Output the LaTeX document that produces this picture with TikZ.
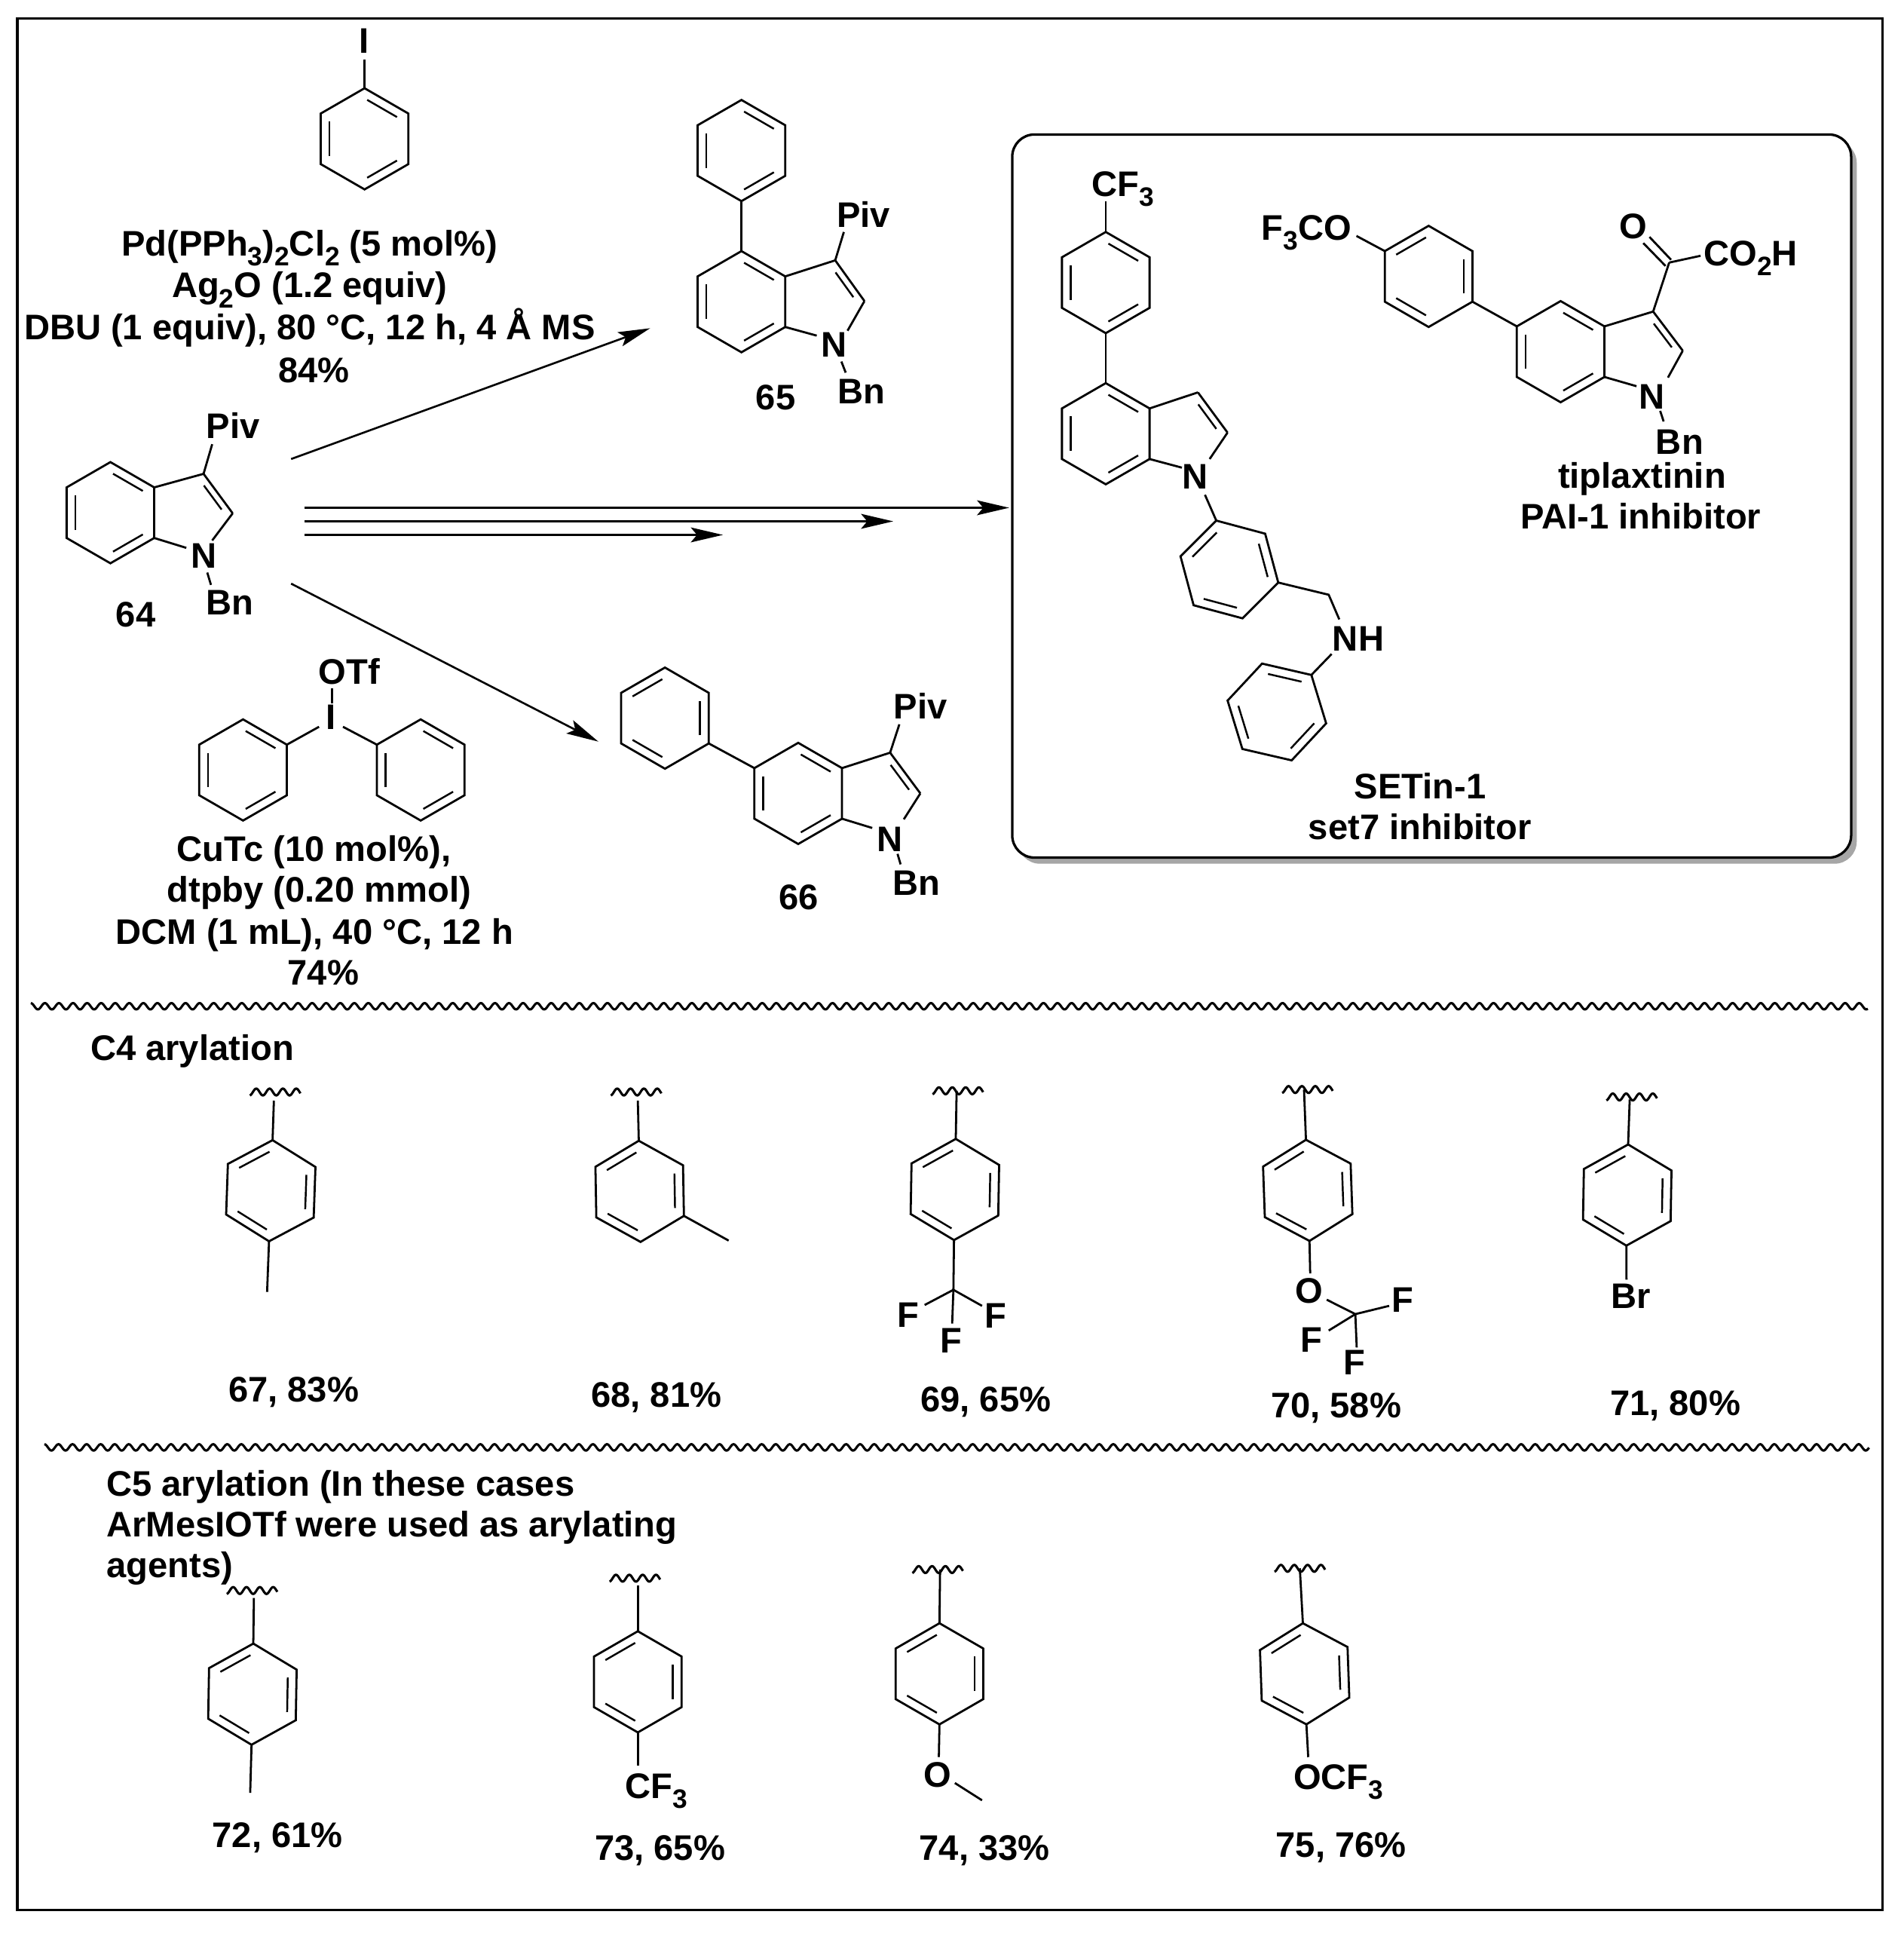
\documentclass[tikz,border=0pt]{standalone}
\usepackage{fontspec}
\setmainfont{Liberation Sans}
\usetikzlibrary{calc,arrows.meta}
\newcommand\subs[1]{\raisebox{-.28em}{\fontsize{10.8}{10.8}\selectfont #1}}
\tikzset{
  bond/.style={line width=.85pt,line cap=butt,line join=miter},
  innerbond/.style={line width=.75pt,line cap=butt},
  rxn/.style={line width=.95pt,-{Stealth[length=13pt,width=6pt,inset=2.5pt]}},
  rxnthin/.style={line width=.8pt,-{Stealth[length=13pt,width=6pt,inset=2.5pt]}},
  lab/.style={font=\fontsize{14.4}{14.4}\selectfont\bfseries,inner sep=0pt,text height=10.3pt,text depth=0pt},
  wavy/.style={line width=.95pt,line join=round}
}
\def\Rr{41}
\newcommand\benz[5]{%
  \coordinate (#1c) at (#2,#3);
  \foreach \k in {0,...,5}{%
    \pgfmathsetmacro\aa{#4+60*\k}%
    \coordinate (#1\k) at ({#2+\Rr*cos(\aa)},{#3-\Rr*sin(\aa)});
  }
  \draw[bond] (#10)--(#11)--(#12)--(#13)--(#14)--(#15)--cycle;
  \foreach \k in {0,2,4}{%
    \pgfmathtruncatemacro\ka{mod(\k+#5,6)}%
    \pgfmathtruncatemacro\kb{mod(\k+#5+1,6)}%
    \draw[innerbond] ($(#1\ka)!.075!(#1\kb)!.2!(#1c)$) -- ($(#1\kb)!.075!(#1\ka)!.2!(#1c)$);
  }
}
\newcommand\bd[2]{\draw[bond] #1 -- #2;}
% double-bond inner line: ends a, b, toward c
\newcommand\inn[3]{\draw[innerbond] ($#1!.12!#2!.2!#3$) -- ($#2!.12!#1!.2!#3$);}
\newcommand\smallwave[2]{\draw[wavy,domain=-20.5:20.5,samples=50,smooth,variable=\t] plot ({#1+\t},{#2-2.8*cos(33.3*(\t+4.5))});}
\newcommand\longwave[3]{\draw[wavy,domain=#1:#2,samples=1500,variable=\t] plot ({\t},{#3-2.6*cos(mod(\t-#1,11.4)*31.579)});}
\begin{document}
\begin{tikzpicture}[x=.5pt,y=-.5pt]
\useasboundingbox (0,0) rectangle (1543,1569);
\fill[white] (0,0) rectangle (1543,1569);
\draw[line width=1.1pt] (14,15) rectangle (1526,1548);

% ---------- iodobenzene
\benz{ib}{295.5}{112.5}{90}{1}
\node[lab] (iI) at (295,33) {I};
\draw[bond] (295.5,48) -- (ib0);
\node[lab] (t1) at (251,197) {Pd(PPh\subs{3})\subs{2}Cl\subs{2} (5 mol\%)};
\node[lab] (t2) at (251,231) {Ag\subs{2}O (1.2 equiv)};
\node[lab] (t3) at (251,265) {DBU (1 equiv), 80 °C, 12 h, 4 Å MS};
\node[lab] (t4) at (254.5,300) {84\%};

% ---------- 64
\benz{a}{89.5}{415.5}{90}{1}
\coordinate (a3) at (165,384); \coordinate (a2x) at (188.6,416); \coordinate (apc) at (155,416);
\bd{(a5)}{(a3)} \bd{(a3)}{(a2x)} \inn{(a3)}{(a2x)}{(apc)}
\bd{(a2x)}{(172,438)} \bd{(a4)}{(151,444)}
\node[lab] (aN) at (165,450) {N};
\node[lab] (aPiv) at (189,345) {Piv};
\node[lab] (aBn) at (186,488) {Bn};
\node[lab] (a64) at (110,498) {64};
\bd{(a3)}{(172,360)} \bd{(168,464)}{(171,474)}

% ---------- 65
\benz{b}{601}{122}{90}{1}
\benz{c}{601}{244.5}{90}{1}
\draw[bond] (b3) -- (c0);
\coordinate (c3x) at (677,211); \coordinate (c2x) at (700.7,244); \coordinate (cpc) at (667,244);
\bd{(c5)}{(c3x)} \bd{(c3x)}{(c2x)} \inn{(c3x)}{(c2x)}{(cpc)}
\bd{(c2x)}{(687,268)} \bd{(c4)}{(662,272)}
\node[lab] (cN) at (676,279) {N};
\node[lab] (cPiv) at (700,174) {Piv};
\node[lab] (cBn) at (698,317) {Bn};
\node[lab] (c65) at (628.7,322) {65};
\bd{(c3x)}{(684,188)} \bd{(682,293)}{(685.5,302)}

% ---------- arrows
\coordinate (ar1s) at (236,372); \coordinate (ar1e) at (527,266);
\coordinate (ar2s) at (236,473); \coordinate (ar2e) at (485,601);
\coordinate (ar3s) at (247,411.5); \coordinate (ar3e) at (818,411.5);
\coordinate (ar4s) at (247,422.5); \coordinate (ar4e) at (724,422.5);
\coordinate (ar5s) at (247,433.5); \coordinate (ar5e) at (586,433.5);
\draw[rxnthin] (ar1s) -- (ar1e);
\draw[rxnthin] (ar2s) -- (ar2e);
\draw[rxn] (ar3s) -- (ar3e);
\draw[rxn] (ar4s) -- (ar4e);
\draw[rxn] (ar5s) -- (ar5e);

% ---------- diaryl iodonium
\benz{d}{197}{624}{90}{1}
\benz{e}{341}{624}{90}{1}
\node[lab] (dOTf) at (283,544) {OTf};
\node[lab] (dI) at (268,581) {I};
\bd{(269,558)}{(269,570)}
\draw[bond] (258.6,589) -- (d5);
\draw[bond] (278,589) -- (e1);
\node[lab] (t5) at (254.5,688) {CuTc (10 mol\%),};
\node[lab] (t6) at (258.6,721) {dtpby (0.20 mmol)};
\node[lab] (t7) at (255,755) {DCM (1 mL), 40 °C, 12 h};
\node[lab] (t8) at (262,788) {74\%};

% ---------- 66
\benz{f}{539}{582}{90}{0}
\benz{g}{647}{643}{90}{1}
\draw[bond] (f4) -- (g1);
\coordinate (g3x) at (721.5,610); \coordinate (g2x) at (746,643); \coordinate (gpc) at (712,644);
\bd{(g5)}{(g3x)} \bd{(g3x)}{(g2x)} \inn{(g3x)}{(g2x)}{(gpc)}
\bd{(g2x)}{(732.6,664)} \bd{(g4)}{(707,671)}
\node[lab] (gN) at (721,680) {N};
\node[lab] (gPiv) at (746,572) {Piv};
\node[lab] (gBn) at (743,715) {Bn};
\node[lab] (g66) at (647.5,727) {66};
\bd{(g3x)}{(729,587)} \bd{(727.5,692)}{(730,700.5)}

% ---------- panel
\fill[black!35,rounded corners=9pt] (825,114) rectangle (1505,700);
\draw[fill=white,line width=1pt,rounded corners=9pt] (820.5,109) rectangle (1500.5,695);

% SETin-1
\benz{h}{896.3}{229}{90}{1}
\benz{j}{896.3}{351.5}{90}{1}
\node[lab] (hCF) at (910,149) {CF\subs{3}};
\bd{(896.3,163)}{(h0)}
\draw[bond] (h3) -- (j0);
\coordinate (j3x) at (971,318); \coordinate (j2x) at (995,350.6); \coordinate (jpc) at (961,351);
\bd{(j5)}{(j3x)} \bd{(j3x)}{(j2x)} \inn{(j3x)}{(j2x)}{(jpc)}
\bd{(j2x)}{(980.5,372)} \bd{(j4)}{(958,379)}
\node[lab] (jN) at (969,386) {N};
\benz{k}{996.5}{461.5}{105}{0}
\draw[bond] (976.7,401) -- (k0);
\coordinate (kch) at (1077,482);
\draw[bond] (k4) -- (kch) -- (1085.6,502);
\node[lab] (kNH) at (1101,517) {NH};
\benz{m}{1035}{577}{47}{0}
\draw[bond] (1079.4,530) -- (m0);
\node[lab] (s1) at (1151,637) {SETin-1};
\node[lab] (s2) at (1151,670) {set7 inhibitor};

% tiplaxtinin
\benz{n}{1158}{224}{90}{0}
\benz{p}{1265}{285}{90}{1}
\node[lab] (nF) at (1059,184) {F\subs{3}CO};
\draw[bond] (1099.5,191.2) -- (n1);
\draw[bond] (n4) -- (p1);
\coordinate (p3x) at (1340,252.5); \coordinate (p2x) at (1364,284.2); \coordinate (ppc) at (1331,286);
\coordinate (pco) at (1353,212.8);
\bd{(p5)}{(p3x)} \bd{(p3x)}{(p2x)} \inn{(p3x)}{(p2x)}{(ppc)}
\bd{(p2x)}{(1352,306)} \bd{(p4)}{(1326.5,313)}
\node[lab] (pN) at (1339,321) {N};
\bd{(1345.7,333)}{(1348.5,341.6)}
\node[lab] (pBn) at (1361.5,358) {Bn};
\bd{(p3x)}{(pco)}
\bd{(1354.5,210.5)}{(1337,192)} \bd{(1350,215.5)}{(1332,197)}
\node[lab] (pO) at (1324,183) {O};
\bd{(pco)}{(1378.4,207.3)}
\node[lab] (pCO) at (1419,205) {CO\subs{2}H};
\node[lab] (s3) at (1331,385) {tiplaxtinin};
\node[lab] (s4) at (1330,418) {PAI-1 inhibitor};

% ---------- separators
\longwave{25}{1514}{815.5}
\longwave{36}{1515}{1173}

% ---------- C4
\node[lab,anchor=west] (c4t) at (73,849) {C4 arylation};
% 67
\smallwave{223}{885}
\benz{q}{219.5}{965}{88}{0}
\bd{(222,892)}{(q0)} \draw[bond] (q3) -- (216.5,1047);
\node[lab] (q67) at (238,1126) {67, 83\%};
% 68
\smallwave{515.6}{885}
\benz{r}{518.5}{965.5}{91}{0}
\bd{(517,892)}{(r0)} \draw[bond] (r4) -- (590.6,1005.4);
\node[lab] (r68) at (532,1130) {68, 81\%};
% 69
\smallwave{776.4}{884}
\benz{u}{774}{964}{89}{0}
\bd{(775.4,884)}{(u0)}
\coordinate (ucf) at (772.8,1045.3);
\draw[bond] (u3) -- (ucf);
\bd{(ucf)}{(749.5,1057.6)} \bd{(ucf)}{(796,1058.3)} \bd{(ucf)}{(771.8,1072.6)}
\node[lab] (uF1) at (736,1065.5) {F};
\node[lab] (uF2) at (771,1086) {F};
\node[lab] (uF3) at (807,1066) {F};
\node[lab] (u69) at (799,1134) {69, 65\%};
% 70
\smallwave{1059.8}{883}
\benz{v}{1060}{964.7}{92}{0}
\bd{(1057,883)}{(v0)}
\draw[bond] (v3) -- (1062,1032);
\node[lab] (vO) at (1061,1045.5) {O};
\coordinate (vcf) at (1098.6,1065);
\bd{(1075.4,1053.3)}{(vcf)} \bd{(vcf)}{(1126,1058.3)} \bd{(vcf)}{(1077,1078.3)} \bd{(vcf)}{(1099.7,1092)}
\node[lab] (vF1) at (1137,1053) {F};
\node[lab] (vF2) at (1063,1085.5) {F};
\node[lab] (vF3) at (1098,1104) {F};
\node[lab] (v70) at (1083,1138.5) {70, 58\%};
% 71
\smallwave{1322.6}{889}
\benz{w}{1319}{968.5}{89}{0}
\bd{(1321,891)}{(w0)}
\draw[bond] (w3) -- (1318.4,1037);
\node[lab] (wBr) at (1322,1050) {Br};
\node[lab] (w71) at (1358,1137) {71, 80\%};

% ---------- C5
\node[lab,anchor=west] (c5a) at (86,1202) {C5 arylation (In these cases};
\node[lab,anchor=west] (c5b) at (86,1235) {ArMesIOTf were used as arylating};
\node[lab,anchor=west] (c5c) at (86,1268) {agents)};
% 72
\smallwave{204.3}{1289}
\benz{x}{204.6}{1373}{89}{0}
\bd{(205.8,1295)}{(x0)} \draw[bond] (x3) -- (202.8,1453);
\node[lab] (x72) at (225,1487) {72, 61\%};
% 73
\smallwave{514.6}{1279}
\benz{y}{517}{1363}{90}{0}
\bd{(517,1285)}{(y0)} \draw[bond] (y3) -- (517,1431);
\node[lab] (yCF) at (532,1447) {CF\subs{3}};
\node[lab] (y73) at (535,1497) {73, 65\%};
% 74
\smallwave{760}{1272}
\benz{z}{761.5}{1356.5}{90}{0}
\bd{(762,1272)}{(z0)} \draw[bond] (z3) -- (761,1424);
\node[lab] (zO) at (760,1438) {O};
\bd{(774,1445)}{(796,1459)}
\node[lab] (z74) at (798,1497) {74, 33\%};
% 75
\smallwave{1053.6}{1271}
\benz{l}{1057.5}{1356.5}{92}{0}
\bd{(1053.6,1271)}{(l0)} \draw[bond] (l3) -- (1060.4,1424);
\node[lab] (lO) at (1085,1440) {OCF\subs{3}};
\node[lab] (l75) at (1087,1495) {75, 76\%};
\end{tikzpicture}
\end{document}
